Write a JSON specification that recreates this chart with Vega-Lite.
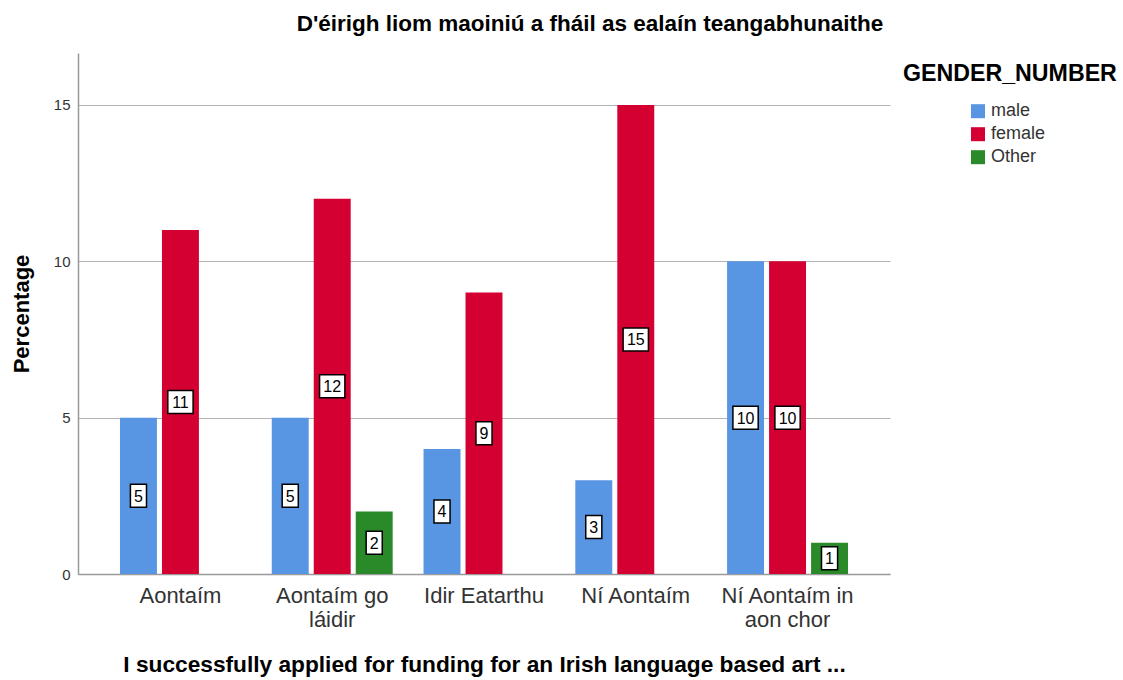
{
  "$schema": "https://vega.github.io/schema/vega-lite/v6.json",
  "width": 812,
  "height": 521,
  "autosize": {"type": "none"},
  "padding": {"left": 78, "top": 53, "right": 233, "bottom": 106},
  "background": "white",
  "title": {
    "text": "D'éirigh liom maoiniú a fháil as ealaín teangabhunaithe",
    "font": "Liberation Sans",
    "fontSize": 22.5,
    "fontWeight": "bold",
    "color": "#000000",
    "anchor": "middle",
    "dx": 106,
    "offset": 18
  },
  "config": {
    "view": {"stroke": null},
    "font": "Liberation Sans"
  },
  "data": {
    "values": [
      {"response": "Aontaím", "gender": "male", "value": 5},
      {"response": "Aontaím", "gender": "female", "value": 11},
      {"response": "Aontaím go láidir", "gender": "male", "value": 5},
      {"response": "Aontaím go láidir", "gender": "female", "value": 12},
      {"response": "Aontaím go láidir", "gender": "Other", "value": 2},
      {"response": "Idir Eatarthu", "gender": "male", "value": 4},
      {"response": "Idir Eatarthu", "gender": "female", "value": 9},
      {"response": "Ní Aontaím", "gender": "male", "value": 3},
      {"response": "Ní Aontaím", "gender": "female", "value": 15},
      {"response": "Ní Aontaím in aon chor", "gender": "male", "value": 10},
      {"response": "Ní Aontaím in aon chor", "gender": "female", "value": 10},
      {"response": "Ní Aontaím in aon chor", "gender": "Other", "value": 1}
    ]
  },
  "encoding": {
    "x": {
      "field": "response",
      "type": "nominal",
      "sort": ["Aontaím", "Aontaím go láidir", "Idir Eatarthu", "Ní Aontaím", "Ní Aontaím in aon chor"],
      "scale": {"paddingInner": 0.17, "paddingOuter": 0.26},
      "title": "I successfully applied for funding for an Irish language based art ...",
      "axis": {
        "labelAngle": 0,
        "labelFontSize": 22,
        "labelColor": "#333333",
        "labelPadding": 11,
        "labelLineHeight": 24,
        "labelExpr": "datum.value == 'Aontaím go láidir' ? ['Aontaím go', 'láidir'] : datum.value == 'Ní Aontaím in aon chor' ? ['Ní Aontaím in', 'aon chor'] : datum.value",
        "ticks": false,
        "domainColor": "#999999",
        "domainWidth": 1.5,
        "titleFontSize": 22.7,
        "titleFontWeight": "bold",
        "titleColor": "#000000",
        "titlePadding": 23
      }
    },
    "xOffset": {
      "field": "gender",
      "type": "nominal",
      "sort": ["male", "female", "Other"],
      "scale": {"paddingInner": 0.12, "paddingOuter": 0.06}
    }
  },
  "layer": [
    {
      "mark": {"type": "bar"},
      "encoding": {
        "y": {
          "field": "value",
          "type": "quantitative",
          "scale": {"domain": [0, 16.66], "nice": false},
          "title": "Percentage",
          "axis": {
            "values": [0, 5, 10, 15],
            "ticks": false,
            "labelFontSize": 15,
            "labelColor": "#333333",
            "labelPadding": 8,
            "gridColor": "#b4b4b4",
            "gridWidth": 1,
            "domainColor": "#999999",
            "domainWidth": 1.5,
            "titleFontSize": 22,
            "titleFontWeight": "bold",
            "titleColor": "#000000",
            "titlePadding": 20
          }
        },
        "color": {
          "field": "gender",
          "type": "nominal",
          "sort": ["male", "female", "Other"],
          "scale": {"domain": ["male", "female", "Other"], "range": ["#5895E2", "#D40032", "#2A8A2A"]},
          "legend": {
            "title": "GENDER_NUMBER",
            "orient": "none",
            "legendX": 825,
            "legendY": 10,
            "titleFontSize": 23.2,
            "titleFontWeight": "bold",
            "titleColor": "#000000",
            "titleLimit": 400,
            "titlePadding": 16,
            "symbolType": "square",
            "symbolSize": 196,
            "symbolOffset": 66,
            "symbolStrokeWidth": 0,
            "labelFontSize": 18,
            "labelColor": "#333333",
            "labelOffset": 4,
            "rowPadding": 5
          }
        }
      }
    },
    {
      "transform": [{"filter": "datum.value < 10"}, {"calculate": "datum.value / 2", "as": "mid"}],
      "mark": {"type": "point", "filled": true, "fill": "white", "stroke": "black", "strokeWidth": 1.5, "opacity": 1, "size": 529, "shape": "M-0.7,-1L0.7,-1L0.7,1L-0.7,1Z"},
      "encoding": {
        "y": {"field": "mid", "type": "quantitative"}
      }
    },
    {
      "transform": [{"filter": "datum.value >= 10"}, {"calculate": "datum.value / 2", "as": "mid"}],
      "mark": {"type": "point", "filled": true, "fill": "white", "stroke": "black", "strokeWidth": 1.5, "opacity": 1, "size": 529, "shape": "M-1.1,-1L1.1,-1L1.1,1L-1.1,1Z"},
      "encoding": {
        "y": {"field": "mid", "type": "quantitative"}
      }
    },
    {
      "transform": [{"calculate": "datum.value / 2", "as": "mid"}],
      "mark": {"type": "text", "fontSize": 16, "color": "#000000", "baseline": "middle", "align": "center", "dy": 1},
      "encoding": {
        "y": {"field": "mid", "type": "quantitative"},
        "text": {"field": "value", "type": "quantitative"}
      }
    }
  ]
}
